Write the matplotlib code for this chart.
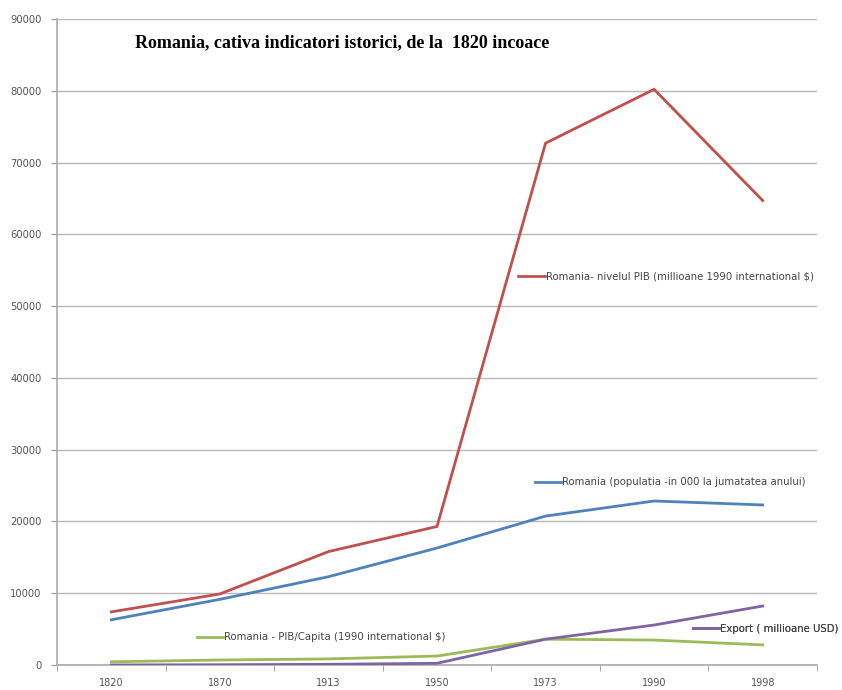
import matplotlib.pyplot as plt
from matplotlib.lines import Line2D

# Date
ani = ['1820', '1870', '1913', '1950', '1973', '1990', '1998']
pib_total = [7400, 9900, 15800, 19300, 72700, 80200, 64700]
populatie = [6300, 9150, 12300, 16300, 20750, 22850, 22300]
pib_capita = [450, 700, 850, 1250, 3600, 3480, 2800]
export = [10, 40, 100, 240, 3600, 5570, 8220]

serii = [
    ('Romania- nivelul PIB (millioane 1990 international $)', pib_total, '#C0504D', (0.607, 0.602)),
    ('Romania (populatia -in 000 la jumatatea anului)', populatie, '#4F81BD', (0.629, 0.283)),
    ('Romania - PIB/Capita (1990 international $)', pib_capita, '#9BBB59', (0.184, 0.043)),
    ('Export ( millioane USD)', export, '#8064A2', (0.837, 0.056)),
]

fig = plt.figure(figsize=(8.42, 6.90), dpi=100)
ax = fig.add_axes([0.0677, 0.0362, 0.9026, 0.9363])

x = list(range(len(ani)))
for nume, vals, cul, poz in serii:
    ax.plot(x, vals, color=cul, linewidth=2.0, solid_joinstyle='miter', zorder=3)

ax.set_xlim(-0.5, len(ani) - 0.5)
ax.set_ylim(0, 90000)
ax.set_yticks(range(0, 90001, 10000))
ax.set_xticks(x)
ax.set_xticklabels(ani)
ax.set_xticks([i - 0.5 for i in range(len(ani) + 1)], minor=True)
ax.tick_params(axis='x', which='major', length=0, pad=9, labelsize=7, labelcolor='#555555')
ax.tick_params(axis='x', which='minor', length=4, color='#999999', direction='out')
ax.tick_params(axis='y', length=4, color='#999999', pad=7, labelsize=7.2, labelcolor='#555555')

ax.grid(axis='y', color='#b8b8b8', linewidth=1)
ax.set_axisbelow(True)
for s in ['top', 'right']:
    ax.spines[s].set_visible(False)
for s in ['left', 'bottom']:
    ax.spines[s].set_color('#aaaaaa')
    ax.spines[s].set_linewidth(1.2)

# Etichete de serie (stil Excel)
for nume, vals, cul, poz in serii:
    h = Line2D([], [], color=cul, linewidth=2.0)
    leg = ax.legend([h], [nume], loc='center left', bbox_to_anchor=poz,
                    frameon=False, borderpad=0, borderaxespad=0,
                    handlelength=2.6, handletextpad=0.1,
                    prop={'size': 7.3})
    for t in leg.get_texts():
        t.set_color('#444444')
    ax.add_artist(leg)

fig.text(0.160, 0.938, 'Romania, cativa indicatori istorici, de la  1820 incoace',
         fontfamily='Liberation Serif', fontweight='bold', fontsize=13,
         ha='left', va='center')

fig.savefig('out.png', dpi=100)
